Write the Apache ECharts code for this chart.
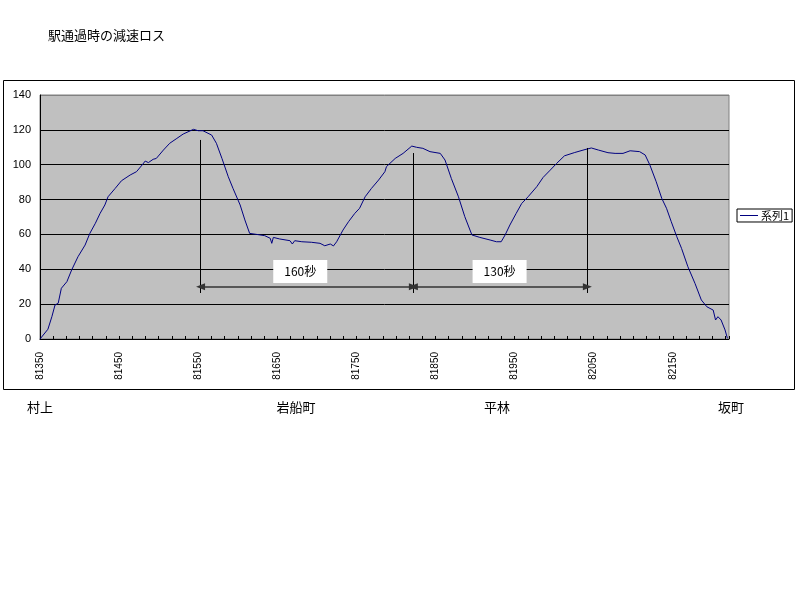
<!DOCTYPE html>
<html>
<head>
<meta charset="utf-8">
<script src="https://cdn.jsdelivr.net/npm/echarts@6/dist/echarts.min.js"></script>
<style>html,body{margin:0;padding:0;background:#fff}#c{width:800px;height:600px}</style>
</head>
<body>
<div id="c"></div>
<script>
const titleText = '駅通過時の減速ロス';
const seriesName = '系列1';
const stations = ['村上', '岩船町', '平林', '坂町'];
const distance = [81350,81360,81365,81369,81373,81377,81384,81390,81398,81407,81413,81420,81426,81432,81436,81445,81453,81464,81472,81479,81483,81487,81493,81497,81506,81514,81523,81531,81544,81550,81556,81567,81573,81580,81588,81594,81603,81609,81615,81624,81634,81641,81643,81645,81653,81666,81669,81672,81681,81693,81704,81710,81717,81721,81725,81733,81740,81748,81754,81761,81769,81778,81786,81788,81799,81809,81820,81826,81834,81843,81856,81862,81870,81879,81887,81896,81906,81919,81927,81933,81938,81944,81952,81959,81967,81978,81986,81995,82003,82013,82026,82039,82047,82056,82068,82077,82087,82096,82108,82115,82121,82129,82136,82142,82148,82155,82161,82169,82178,82186,82193,82201,82204,82207,82211,82216,82219];
const speed = [0,5.6,12.8,19.5,20.5,29.1,32.9,39.6,47.2,53.9,60.6,66.4,72.1,76.9,81.6,86.4,90.8,94.1,96.0,99.8,102.1,101.2,103.1,103.6,108.4,112.3,115.1,117.6,120.3,119.5,119.5,117.0,112.3,103.6,93.1,86.4,76.9,68.3,60.6,60.0,59.3,57.8,54.9,58.3,57.4,56.4,54.5,56.4,55.8,55.5,54.9,53.5,54.5,53.4,55.8,62.5,67.3,72.1,75.0,81.6,86.4,91.2,96.0,98.9,103.6,106.5,110.7,110.0,109.4,107.5,106.5,102.7,92.1,81.6,70.2,59.7,58.3,56.8,55.8,55.8,59.7,65.4,72.1,77.8,81.6,87.4,92.7,96.9,100.7,105.1,107.0,108.7,109.6,108.4,106.9,106.5,106.5,108.0,107.5,105.6,99.8,90.2,80.7,75.0,67.3,58.7,52.0,41.5,31.9,22.4,18.5,16.6,10.9,12.8,10.9,5.2,0.4];
const markX = [81553, 81822, 82042];
const markTop = [114.2, 106.7, 109.6];
const markBottom = 26.4;
const arrowY = 30;
const intervalLabels = ['160秒', '130秒'];
const intervalLabelPos = [[81679, 38.7], [81931, 38.7]];

const data = distance.map((d, i) => [d, speed[i]]);
const jp = '"Noto Sans CJK JP", "Liberation Sans", sans-serif';

const markLines = [];
markX.forEach((x, i) => {
  markLines.push([{coord: [x, markBottom], symbol: 'none'}, {coord: [x, markTop[i]], symbol: 'none'}]);
});
for (let i = 0; i < markX.length - 1; i++) {
  markLines.push([{coord: [markX[i], arrowY], symbol: 'triangle', symbolSize: [7, 9], symbolRotate: 90,
    lineStyle: {color: '#333', width: 1.5}},
    {coord: [markX[i + 1], arrowY], symbol: 'triangle', symbolSize: [7, 9],
    lineStyle: {color: '#333', width: 1.5}}]);
}

const chart = echarts.init(document.getElementById('c'), null, {renderer: 'canvas'});
chart.setOption({
  animation: false,
  backgroundColor: '#fff',
  textStyle: {fontFamily: jp},
  title: {
    text: titleText, left: 43, top: 24,
    textStyle: {fontSize: 13, fontWeight: 'normal', color: '#000', fontFamily: jp}
  },
  legend: {
    data: [seriesName], left: 737, top: 209, orient: 'vertical',
    padding: [1, 3, 1, 3], borderColor: '#000', borderWidth: 1,
    itemWidth: 18, itemHeight: 1, icon: 'rect', itemGap: 0,
    textStyle: {fontSize: 11, color: '#000', fontFamily: jp, padding: [0, 0, 0, -2]}
  },
  grid: {
    left: 40, top: 95, right: 71, bottom: 261,
    show: true, backgroundColor: '#c0c0c0', borderColor: '#808080', borderWidth: 1
  },
  xAxis: {
    type: 'value', min: 81350, max: 82221, interval: 50,
    axisLine: {show: true, lineStyle: {color: '#000', width: 1}},
    axisTick: {show: true, inside: true, length: 3, lineStyle: {color: '#000'}},
    minorTick: {show: true, splitNumber: 3, length: 3, lineStyle: {color: '#000'}},
    splitLine: {show: false},
    axisLabel: {
      rotate: 90, fontSize: 10, color: '#000', margin: 13, fontFamily: '"Liberation Sans", Arial, sans-serif',
      formatter: v => ((v - 81350) % 100 === 0 ? String(v) : '')
    }
  },
  yAxis: {
    type: 'value', min: 0, max: 140, interval: 20,
    axisLine: {show: true, lineStyle: {color: '#000', width: 1}},
    axisTick: {show: false},
    splitLine: {show: true, lineStyle: {color: ['#000', '#000', '#000', '#000', '#000', '#000', '#000', '#808080'], width: 1}},
    axisLabel: {fontSize: 11, color: '#000', margin: 9, fontFamily: '"Liberation Sans", Arial, sans-serif'}
  },
  series: [{
    name: seriesName, type: 'line', data: data, symbol: 'none', showSymbol: false,
    lineStyle: {color: '#000080', width: 1}, itemStyle: {color: '#000080'},
    markLine: {
      silent: true, animation: false, symbol: 'none',
      lineStyle: {color: '#000', width: 1, type: 'solid'},
      label: {show: false},
      data: markLines
    },
    markPoint: {
      silent: true, animation: false,
      symbol: 'rect', symbolSize: [54, 23],
      itemStyle: {color: '#fff'},
      label: {show: true, position: 'inside', color: '#000', fontSize: 12, fontFamily: jp},
      data: intervalLabels.map((t, i) => ({coord: intervalLabelPos[i], value: t, label: {formatter: t}}))
    }
  }],
  graphic: [
    {type: 'rect', shape: {x: 3.5, y: 80.5, width: 791, height: 309}, style: {fill: 'none', stroke: '#000', lineWidth: 1}, silent: true},
    ...stations.map((s, i) => ({
      type: 'text', x: [40, 296, 497, 731][i], y: 407,
      style: {text: s, fontSize: 13, fill: '#000', fontFamily: jp, align: 'center', verticalAlign: 'middle'}
    }))
  ]
});
</script>
</body>
</html>
